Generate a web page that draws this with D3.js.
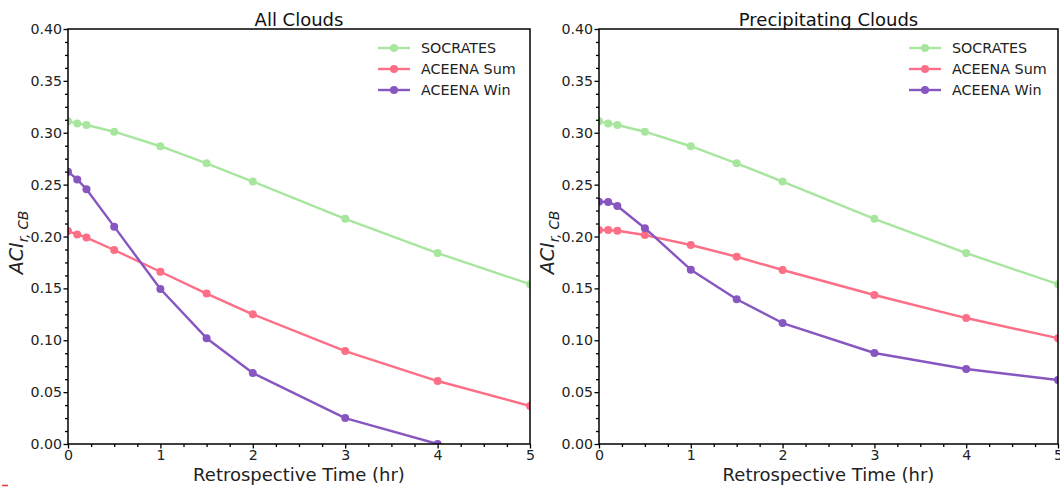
<!DOCTYPE html>
<html>
<head>
<meta charset="utf-8">
<script src="https://cdn.jsdelivr.net/npm/d3@7"></script>
<style>
  html, body { margin: 0; padding: 0; background: #fff; }
  svg { display: block; font-family: "DejaVu Sans", sans-serif; }
</style>
</head>
<body>
<svg id="chart" width="1060" height="487"></svg>
<script>
// Retrospective time (hr) at which each ACI value was computed
const hours = [0, 0.1, 0.2, 0.5, 1, 1.5, 2, 3, 4, 5];

// All clouds
const allSocrates = [0.311, 0.309, 0.3075, 0.301, 0.287, 0.2705, 0.253, 0.217, 0.184, 0.154];
const allAceenaSum = [0.2053, 0.202, 0.199, 0.187, 0.166, 0.145, 0.125, 0.0896, 0.0607, 0.0366];
const allAceenaWin = [0.2625, 0.255, 0.2455, 0.2095, 0.1494, 0.102, 0.0684, 0.025, 0.0, null];

// Precipitating clouds
const precSocrates = [0.311, 0.309, 0.3075, 0.301, 0.287, 0.2705, 0.253, 0.217, 0.184, 0.154];
const precAceenaSum = [0.2063, 0.2062, 0.2055, 0.2014, 0.1918, 0.1805, 0.1677, 0.1436, 0.1214, 0.102];
const precAceenaWin = [0.2335, 0.2333, 0.2294, 0.208, 0.168, 0.1395, 0.1166, 0.0877, 0.0723, 0.0617];

const seriesNames = ["SOCRATES", "ACEENA Sum", "ACEENA Win"];
const seriesColors = ["#a8e6a0", "#fd6f86", "#8756c1"];

const xTicks = [0, 1, 2, 3, 4, 5];
const yTicks = [0.00, 0.05, 0.10, 0.15, 0.20, 0.25, 0.30, 0.35, 0.40];

const panels = [
  { title: "All Clouds", series: [allSocrates, allAceenaSum, allAceenaWin], left: 68, right: 530 },
  { title: "Precipitating Clouds", series: [precSocrates, precAceenaSum, precAceenaWin], left: 599, right: 1058 }
];

const plotTop = 29, plotBottom = 444;
const svg = d3.select("#chart");

panels.forEach((p, pi) => {
  const x = d3.scaleLinear().domain([0, 5]).range([p.left, p.right]);
  const y = d3.scaleLinear().domain([0, 0.4]).range([plotBottom, plotTop]);
  const g = svg.append("g");

  const clipId = "clip" + pi;
  svg.append("defs").append("clipPath").attr("id", clipId)
    .append("rect")
    .attr("x", p.left).attr("y", plotTop)
    .attr("width", p.right - p.left).attr("height", plotBottom - plotTop);

  // series lines and markers
  const plot = g.append("g").attr("clip-path", `url(#${clipId})`);
  p.series.forEach((vals, si) => {
    const pts = hours.map((h, i) => ({ h, v: vals[i] })).filter(d => d.v !== null);
    const line = d3.line().x(d => x(d.h)).y(d => y(d.v));
    plot.append("path")
      .datum(pts)
      .attr("d", line)
      .attr("fill", "none")
      .attr("stroke", seriesColors[si])
      .attr("stroke-width", 2.4)
      .attr("stroke-linejoin", "round");
    plot.selectAll(null)
      .data(pts)
      .enter().append("circle")
      .attr("cx", d => x(d.h))
      .attr("cy", d => y(d.v))
      .attr("r", 4)
      .attr("fill", seriesColors[si]);
  });

  // axes
  const xMinor = d3.range(0, 5.001, 0.25).filter(v => Math.abs(v - Math.round(v)) > 1e-6);
  const yMinor = d3.range(0, 0.4001, 0.0125).filter(v => Math.abs(v / 0.05 - Math.round(v / 0.05)) > 1e-6);

  g.append("g").attr("transform", `translate(0,${plotBottom})`)
    .call(d3.axisBottom(x).tickValues(xTicks).tickFormat(d3.format("d")).tickSize(4.5).tickPadding(1));
  g.append("g").attr("transform", `translate(0,${plotBottom})`)
    .call(d3.axisBottom(x).tickValues(xMinor).tickFormat("").tickSize(3));

  g.append("g").attr("transform", `translate(${p.left},0)`)
    .call(d3.axisLeft(y).tickValues(yTicks).tickFormat(d3.format(".2f")).tickSize(4.5).tickPadding(1.5));
  g.append("g").attr("transform", `translate(${p.left},0)`)
    .call(d3.axisLeft(y).tickValues(yMinor).tickFormat("").tickSize(3));

  g.selectAll(".tick line").attr("stroke", "#000").attr("stroke-width", 1.3);
  g.selectAll(".domain").remove();
  g.selectAll(".tick text").attr("font-size", 14.2).attr("fill", "#222")
    .attr("font-family", "DejaVu Sans, sans-serif");

  // frame
  g.append("rect")
    .attr("x", p.left).attr("y", plotTop)
    .attr("width", p.right - p.left).attr("height", plotBottom - plotTop)
    .attr("fill", "none").attr("stroke", "#000").attr("stroke-width", 1.5);

  const cx = (p.left + p.right) / 2;
  // title
  g.append("text").attr("x", cx).attr("y", 26)
    .attr("text-anchor", "middle").attr("font-size", 18).attr("fill", "#111")
    .text(p.title);

  // x label
  g.append("text").attr("x", cx).attr("y", 480.5)
    .attr("text-anchor", "middle").attr("font-size", 18).attr("fill", "#222")
    .text("Retrospective Time (hr)");

  // y label
  const yl = g.append("text")
    .attr("transform", `translate(${p.left - 45},${(plotTop + plotBottom) / 2 + 6}) rotate(-90)`)
    .attr("text-anchor", "middle").attr("font-size", 19).attr("font-style", "italic").attr("fill", "#222");
  yl.append("tspan").text("ACI");
  yl.append("tspan").attr("font-size", 13.5).attr("dy", 5).text("r, CB");

  // legend
  const lx = p.left + 310;
  seriesNames.forEach((name, si) => {
    const ly = 48 + si * 21;
    g.append("line").attr("x1", lx).attr("x2", lx + 32).attr("y1", ly).attr("y2", ly)
      .attr("stroke", seriesColors[si]).attr("stroke-width", 2.4);
    g.append("circle").attr("cx", lx + 16).attr("cy", ly).attr("r", 4).attr("fill", seriesColors[si]);
    g.append("text").attr("x", lx + 43).attr("y", ly + 5)
      .attr("font-size", 14.3).attr("fill", "#222").text(name);
  });
});

// small red mark at the lower-left corner
svg.append("line").attr("x1", 2).attr("x2", 8).attr("y1", 485.5).attr("y2", 485.5)
  .attr("stroke", "#e33").attr("stroke-width", 1.5);
</script>
</body>
</html>
